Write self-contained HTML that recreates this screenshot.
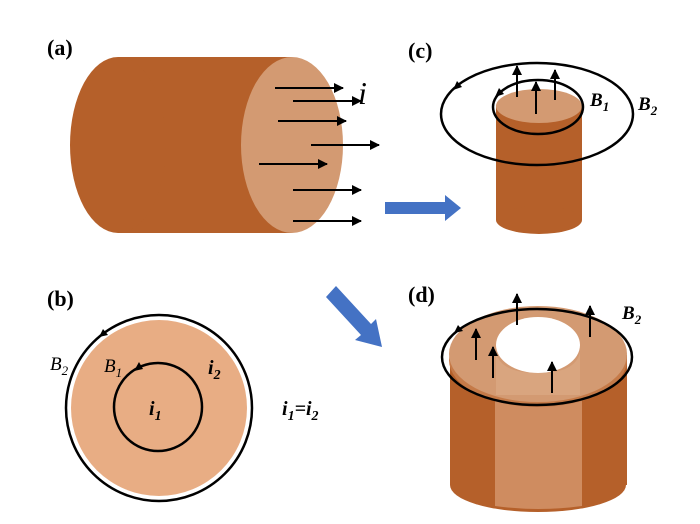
<!DOCTYPE html>
<html><head><style>body{margin:0;background:#fff}svg{display:block}</style></head><body>
<svg width="700" height="524" viewBox="0 0 700 524" xmlns="http://www.w3.org/2000/svg" font-family="Liberation Serif, serif">
<defs>
<marker id="ah" viewBox="0 0 10 10" refX="9" refY="5" markerWidth="5" markerHeight="5" orient="auto"><path d="M0,0L10,5L0,10z" fill="#000"/></marker>
</defs>
<!-- (a) -->
<text x="47" y="55" font-size="22" font-weight="bold">(a)</text>
<rect x="118" y="57" width="174" height="176" fill="#b5602a"/>
<ellipse cx="118" cy="145" rx="48" ry="88" fill="#b5602a"/>
<ellipse cx="292" cy="145" rx="51" ry="88" fill="#d39a72"/>
<g stroke="#000" stroke-width="2" marker-end="url(#ah)">
<line x1="275" y1="88" x2="343" y2="88"/><line x1="293" y1="101" x2="361" y2="101"/>
<line x1="278" y1="121" x2="346" y2="121"/><line x1="311" y1="145" x2="379" y2="145"/>
<line x1="259" y1="164" x2="327" y2="164"/><line x1="293" y1="190" x2="361" y2="190"/>
<line x1="293" y1="221" x2="361" y2="221"/></g>
<text x="358" y="104" font-size="32" font-style="italic">i</text>
<!-- blue arrows -->
<path d="M385,202H445V195L461,208L445,221V214H385Z" fill="#4472c4"/>
<path d="M336,286L371,324L376,319L382,347L355,340L361,335L326,297Z" fill="#4472c4"/>
<!-- (b) -->
<text x="47" y="306" font-size="22" font-weight="bold">(b)</text>
<circle cx="159" cy="408" r="88" fill="#e8ad84"/>
<circle cx="159" cy="408" r="93" fill="none" stroke="#000" stroke-width="2.5"/>
<circle cx="158" cy="407" r="44" fill="none" stroke="#000" stroke-width="2.5"/>
<path d="M99,337L108,335L103,329z" fill="#000"/>
<path d="M134,371L143,369L139,362z" fill="#000"/>
<text x="50" y="370" font-size="19" font-style="italic">B<tspan font-size="13" dy="5">2</tspan></text>
<text x="104" y="372" font-size="19" font-style="italic">B<tspan font-size="13" dy="5">1</tspan></text>
<text x="208" y="374" font-size="20" font-style="italic" font-weight="bold">i<tspan font-size="14" dy="5">2</tspan></text>
<text x="149" y="415" font-size="20" font-style="italic" font-weight="bold">i<tspan font-size="14" dy="5">1</tspan></text>
<text x="282" y="415" font-size="20" font-style="italic" font-weight="bold">i<tspan font-size="14" dy="5">1</tspan><tspan dy="-5">=i</tspan><tspan font-size="14" dy="5">2</tspan></text>
<!-- (c) -->
<text x="408" y="58" font-size="22" font-weight="bold">(c)</text>
<rect x="496" y="105" width="86" height="115" fill="#b5602a"/>
<ellipse cx="539" cy="220" rx="43" ry="14" fill="#b5602a"/>
<ellipse cx="539" cy="106" rx="43" ry="17" fill="#d39a72"/>
<ellipse cx="538" cy="107" rx="45" ry="27" fill="none" stroke="#000" stroke-width="2.5"/>
<ellipse cx="537" cy="114" rx="96" ry="51" fill="none" stroke="#000" stroke-width="2.5"/>
<path d="M453,90L462,87L457,81z" fill="#000"/>
<path d="M495,97L504,94L499,88z" fill="#000"/>
<g stroke="#000" stroke-width="2" marker-end="url(#ah)">
<line x1="517" y1="97" x2="517" y2="66"/><line x1="536" y1="114" x2="536" y2="82"/><line x1="555" y1="100" x2="555" y2="70"/></g>
<text x="590" y="106" font-size="19" font-style="italic" font-weight="bold">B<tspan font-size="13" dy="5">1</tspan></text>
<text x="638" y="110" font-size="19" font-style="italic" font-weight="bold">B<tspan font-size="13" dy="5">2</tspan></text>
<!-- (d) -->
<text x="408" y="302" font-size="22" font-weight="bold">(d)</text>
<rect x="450" y="355" width="177" height="130" fill="#b5602a"/>
<ellipse cx="538" cy="485" rx="88" ry="27" fill="#b5602a"/>
<path d="M495,370V506Q538,512 582,506V370Z" fill="#cf8c60"/>
<ellipse cx="538" cy="360" rx="89" ry="47" fill="#c57a48"/>
<ellipse cx="538" cy="354" rx="89" ry="48" fill="#d39a72"/>
<ellipse cx="538" cy="345" rx="42" ry="28" fill="#fff"/>
<path d="M496,352Q500,373 538,373Q576,373 580,352V395H496Z" fill="#dba782" opacity="0.8"/>
<ellipse cx="537" cy="357" rx="95" ry="48" fill="none" stroke="#000" stroke-width="2.5"/>
<path d="M454,333L463,331L458,325z" fill="#000"/>
<g stroke="#000" stroke-width="2" marker-end="url(#ah)">
<line x1="517" y1="325" x2="517" y2="294"/><line x1="590" y1="337" x2="590" y2="306"/>
<line x1="476" y1="360" x2="476" y2="329"/><line x1="493" y1="378" x2="493" y2="347"/>
<line x1="552" y1="393" x2="552" y2="362"/></g>
<text x="622" y="319" font-size="19" font-style="italic" font-weight="bold">B<tspan font-size="13" dy="5">2</tspan></text>
</svg>
</body></html>
